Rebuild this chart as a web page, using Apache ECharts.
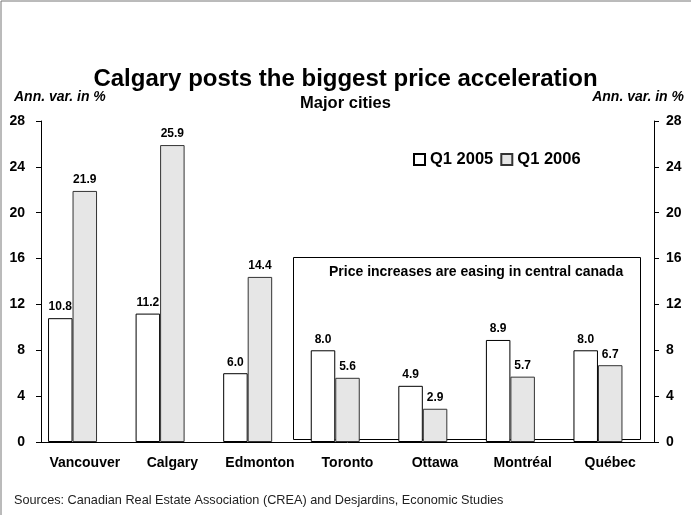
<!DOCTYPE html>
<html>
<head>
<meta charset="utf-8">
<script src="https://cdn.jsdelivr.net/npm/echarts@6/dist/echarts.min.js"></script>
<style>
  html, body { margin: 0; padding: 0; background: #fff; }
  #chart { width: 691px; height: 515px; }
</style>
</head>
<body>
<div id="chart"></div>
<script>
// data
const cities = ['Vancouver', 'Calgary', 'Edmonton', 'Toronto', 'Ottawa', 'Montréal', 'Québec']
const q12005 = [10.8, 11.2, 6.0, 8.0, 4.9, 8.9, 8.0]
const q12006 = [21.9, 25.9, 14.4, 5.6, 2.9, 5.7, 6.7]
// empty third slot in each group (keeps the spacing of the original)
const spacer = [0, 0, 0, 0, 0, 0, 0]

const font = 'Liberation Sans, Arial, sans-serif'

const chart = echarts.init(document.getElementById('chart'))

const barLabel = {
  show: true,
  position: 'top',
  distance: 5,
  fontFamily: font,
  fontSize: 12,
  fontWeight: 'bold',
  color: '#000',
  formatter: p => p.value.toFixed(1)
}

const yAxisBase = {
  type: 'value',
  min: 0,
  max: 28,
  interval: 4,
  splitLine: { show: false },
  axisLine: { show: true, lineStyle: { color: '#000', width: 1 } },
  axisTick: { show: true, length: 5, lineStyle: { color: '#000' } },
  axisLabel: { color: '#000', fontFamily: font, fontSize: 14, fontWeight: 'bold' }
}

chart.setOption({
  backgroundColor: '#fff',
  animation: false,
  textStyle: { fontFamily: font },
  title: [
    {
      text: 'Calgary posts the biggest price acceleration',
      left: 'center',
      top: 62,
      textStyle: { fontFamily: font, fontSize: 24, fontWeight: 'bold', color: '#000' }
    },
    {
      text: 'Major cities',
      left: 'center',
      top: 90,
      textStyle: { fontFamily: font, fontSize: 16.5, fontWeight: 'bold', color: '#000' }
    },
    {
      text: 'Ann. var. in %',
      left: 9,
      top: 85,
      textStyle: { fontFamily: font, fontSize: 14, fontWeight: 'bold', fontStyle: 'italic', color: '#000' }
    },
    {
      text: 'Ann. var. in %',
      right: 2,
      top: 85,
      textStyle: { fontFamily: font, fontSize: 14, fontWeight: 'bold', fontStyle: 'italic', color: '#000' }
    },
    {
      text: 'Sources: Canadian Real Estate Association (CREA) and Desjardins, Economic Studies',
      left: 9,
      top: 489,
      textStyle: { fontFamily: font, fontSize: 12.7, fontWeight: 'normal', color: '#222' }
    }
  ],
  legend: {
    data: ['Q1 2005', 'Q1 2006'],
    left: 408,
    top: 146,
    icon: 'rect',
    itemWidth: 11,
    itemHeight: 11,
    itemGap: 7,
    textStyle: { fontFamily: font, fontSize: 16.5, fontWeight: 'bold', color: '#000' }
  },
  grid: { left: 41, right: 37, top: 121, bottom: 73 },
  xAxis: {
    type: 'category',
    data: cities,
    axisLine: { lineStyle: { color: '#000', width: 1 } },
    axisTick: { show: false },
    axisLabel: { color: '#000', fontFamily: font, fontSize: 14, fontWeight: 'bold', margin: 14, interval: 0 }
  },
  yAxis: [
    Object.assign({}, yAxisBase, {
      position: 'left',
      axisLabel: Object.assign({}, yAxisBase.axisLabel, { margin: 16 })
    }),
    Object.assign({}, yAxisBase, {
      position: 'right',
      axisLabel: Object.assign({}, yAxisBase.axisLabel, { margin: 12 })
    })
  ],
  graphic: [
    // outer frame (top and left edges only)
    { type: 'line', shape: { x1: 1, y1: 1, x2: 691, y2: 1 }, style: { stroke: '#777', lineWidth: 1 } },
    { type: 'line', shape: { x1: 1, y1: 1, x2: 1, y2: 515 }, style: { stroke: '#777', lineWidth: 1 } },
    // central canada box
    {
      type: 'rect',
      z: 0,
      shape: { x: 293.5, y: 257.5, width: 347, height: 182 },
      style: { fill: '#fff', stroke: '#000', lineWidth: 1 }
    },
    {
      type: 'text',
      z: 1,
      left: 329,
      top: 265,
      style: {
        text: 'Price increases are easing in central canada',
        font: 'bold 14px ' + font,
        fill: '#000'
      }
    }
  ],
  series: [
    {
      name: 'Q1 2005',
      type: 'bar',
      data: q12005,
      barWidth: 24.5,
      barGap: '0%',
      itemStyle: { color: '#fff', borderColor: '#000', borderWidth: 1 },
      label: barLabel
    },
    {
      name: 'Q1 2006',
      type: 'bar',
      data: q12006,
      barWidth: 24.5,
      barGap: '0%',
      itemStyle: { color: '#e6e6e6', borderColor: '#333', borderWidth: 1 },
      label: barLabel
    },
    {
      name: 'spacer',
      type: 'bar',
      data: spacer,
      barWidth: 24.5,
      barGap: '0%',
      silent: true,
      itemStyle: { color: 'rgba(0,0,0,0)', borderWidth: 0 },
      label: { show: false }
    }
  ]
})
</script>
</body>
</html>
